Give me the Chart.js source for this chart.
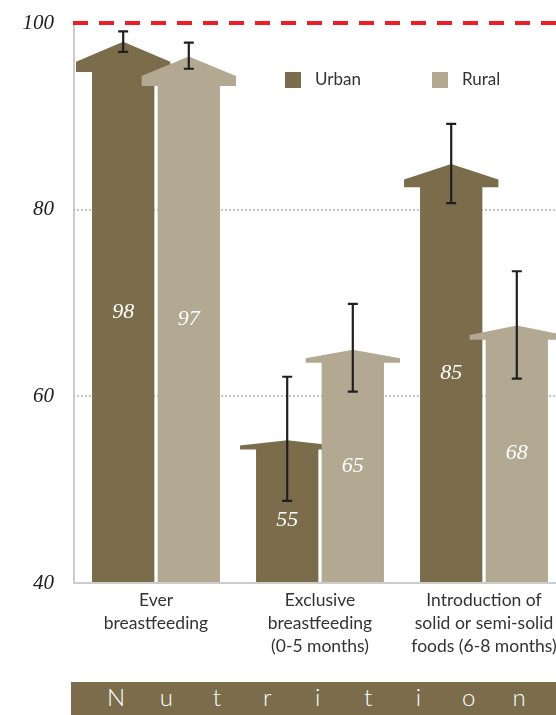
<!DOCTYPE html>
<html>
<head>
<meta charset="utf-8">
<script src="https://cdn.jsdelivr.net/npm/chart.js@4/dist/chart.umd.min.js"></script>
<style>
  html, body { margin: 0; padding: 0; background: #fff; overflow: hidden; }
  #wrap { position: relative; width: 556px; height: 715px; overflow: hidden; }
  #c { position: absolute; left: 0; top: 0; }
  #banner {
    position: absolute; left: 71px; top: 682px; width: 520px; height: 33px;
    background: #7b6d4c; color: #fff; font-family: Lato, sans-serif; font-weight: 300;
    font-size: 24px; line-height: 30px;
  }
  #banner span { position: absolute; top: 0; width: 50px; text-align: center; }
</style>
</head>
<body>
<div id="wrap">
  <canvas id="c" width="580" height="680"></canvas>
  <div id="banner"></div>
</div>
<script>
// ==================== DATA ====================
const categories = [
  ["Ever", "breastfeeding"],
  ["Exclusive", "breastfeeding", "(0-5 months)"],
  ["Introduction of", "solid or semi-solid", "foods (6-8 months)"],
];
const seriesNames = ["Urban", "Rural"];
const urbanValues = [98, 55.3, 84.9];
const ruralValues = [96.4, 65, 67.6];
const urbanLabels = ["98", "55", "85"];
const ruralLabels = ["97", "65", "68"];
const urbanLow = [96.9, 48.8, 80.7];
const urbanHigh = [99.1, 62.1, 89.2];
const ruralLow = [95.1, 60.5, 61.9];
const ruralHigh = [97.9, 69.9, 73.4];
const yTicks = [40, 60, 80, 100];
const bannerText = "Nutrition";

const URBAN = "#7b6d4c";
const RURAL = "#b3a891";

// Banner letters, evenly spaced
const banner = document.getElementById("banner");
bannerText.split("").forEach((ch, i) => {
  const s = document.createElement("span");
  s.textContent = ch;
  s.style.left = (20 + i * 50.4) + "px";
  banner.appendChild(s);
});

// ==================== PLUGIN ====================
const arrowPlugin = {
  id: "arrows",
  beforeDatasetsDraw(chart) {
    const { ctx, chartArea, scales } = chart;
    ctx.save();
    yTicks.forEach((t) => {
      if (t === 40) return;
      const y = Math.round(scales.y.getPixelForValue(t));
      ctx.beginPath();
      if (t === 100) {
        ctx.strokeStyle = "#ee1c25";
        ctx.lineWidth = 4;
        ctx.setLineDash([15, 11]);
      } else {
        ctx.strokeStyle = "#c4c4c4";
        ctx.lineWidth = 2;
        ctx.setLineDash([2, 2]);
      }
      ctx.moveTo(chartArea.left - 1, y);
      ctx.lineTo(chartArea.right + 20, y);
      ctx.stroke();
    });
    ctx.restore();
  },
  beforeDatasetDraw() {
    return false; // bars are drawn as arrows below
  },
  afterDatasetsDraw(chart) {
    const { ctx, scales, chartArea } = chart;
    const y = scales.y;
    const lows = [urbanLow, ruralLow];
    const highs = [urbanHigh, ruralHigh];
    const labels = [urbanLabels, ruralLabels];
    const metas = [chart.getDatasetMeta(0), chart.getDatasetMeta(1)];
    const baseY = chartArea.bottom - 1;

    ctx.save();
    // arrows: group by group, urban then rural
    for (let i = 0; i < categories.length; i++) {
      metas.forEach((meta, d) => {
        const bar = meta.data[i];
        const half = bar.width / 2;
        const xl = bar.x - half, xr = bar.x + half;
        const peak = bar.y, base = baseY;
        const h = base - peak;
        const drop = 0.037 * h;
        const thick = Math.max(4, 0.019 * h);
        const ext = 16;
        ctx.fillStyle = d === 0 ? URBAN : RURAL;
        ctx.beginPath();
        ctx.moveTo(xl, base);
        ctx.lineTo(xl, peak + drop + thick);
        ctx.lineTo(xl - ext, peak + drop + thick);
        ctx.lineTo(xl - ext, peak + drop);
        ctx.lineTo(bar.x, peak);
        ctx.lineTo(xr + ext, peak + drop);
        ctx.lineTo(xr + ext, peak + drop + thick);
        ctx.lineTo(xr, peak + drop + thick);
        ctx.lineTo(xr, base);
        ctx.closePath();
        ctx.fill();
      });
    }

    // value labels
    ctx.fillStyle = "#ffffff";
    ctx.font = "italic 22px 'Liberation Serif', serif";
    ctx.textAlign = "center";
    ctx.textBaseline = "middle";
    metas.forEach((meta, d) => {
      meta.data.forEach((bar, i) => {
        let ly = (bar.y + baseY) / 2;
        const errLow = y.getPixelForValue(lows[d][i]);
        if (ly < errLow + 12) ly = errLow + 19;
        ctx.fillText(labels[d][i], bar.x, ly);
      });
    });

    // error bars
    ctx.strokeStyle = "#231f20";
    ctx.lineWidth = 2.2;
    metas.forEach((meta, d) => {
      meta.data.forEach((bar, i) => {
        const top = y.getPixelForValue(highs[d][i]);
        const bot = y.getPixelForValue(lows[d][i]);
        ctx.beginPath();
        ctx.moveTo(bar.x, top);
        ctx.lineTo(bar.x, bot);
        ctx.moveTo(bar.x - 5, top);
        ctx.lineTo(bar.x + 5, top);
        ctx.moveTo(bar.x - 5, bot);
        ctx.lineTo(bar.x + 5, bot);
        ctx.stroke();
      });
    });
    ctx.restore();
  },
  afterDraw(chart) {
    // legend
    const { ctx } = chart;
    ctx.save();
    ctx.font = "17px Lato, sans-serif";
    ctx.textBaseline = "middle";
    ctx.textAlign = "left";
    const pos = [285, 432];
    seriesNames.forEach((name, d) => {
      ctx.fillStyle = d === 0 ? URBAN : RURAL;
      ctx.fillRect(pos[d], 72, 16, 16);
      ctx.fillStyle = "#333";
      ctx.fillText(name, pos[d] + 30, 80);
    });
    ctx.restore();
  },
};

// ==================== CHART ====================
new Chart(document.getElementById("c"), {
  type: "bar",
  data: {
    labels: categories,
    datasets: [
      { label: seriesNames[0], data: urbanValues, backgroundColor: URBAN },
      { label: seriesNames[1], data: ruralValues, backgroundColor: RURAL },
    ],
  },
  options: {
    responsive: false,
    animation: false,
    events: [],
    categoryPercentage: 0.8,
    barPercentage: 0.95,
    layout: { padding: { top: 23, right: 14, left: 0, bottom: 0 } },
    plugins: {
      legend: { display: false },
      tooltip: { enabled: false },
    },
    scales: {
      y: {
        min: 40,
        max: 100,
        afterFit: (s) => {
          s.width = 74;
          s.paddingTop = 0;
          s.paddingBottom = 0;
        },
        afterBuildTicks: (s) => { s.ticks = yTicks.map((v) => ({ value: v })); },
        grid: { display: false, drawTicks: false },
        border: { display: true, color: "#cccccc", width: 2 },
        ticks: {
          padding: 20,
          color: "#222",
          font: { family: "'Liberation Serif', serif", style: "italic", size: 21 },
        },
      },
      x: {
        afterFit: (s) => { s.height = 97; },
        grid: { display: false, drawTicks: false },
        border: { display: true, color: "#cccccc", width: 2 },
        ticks: {
          padding: 6,
          color: "#333",
          maxRotation: 0,
          autoSkip: false,
          font: { family: "Lato, sans-serif", size: 17.5, lineHeight: 1.31 },
        },
      },
    },
  },
  plugins: [arrowPlugin],
});
</script>
</body>
</html>
